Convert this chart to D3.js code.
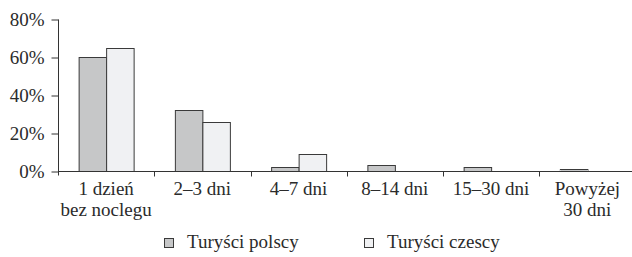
<!DOCTYPE html>
<html>
<head>
<meta charset="utf-8">
<script src="https://cdn.jsdelivr.net/npm/d3@7"></script>
<style>
  body { margin: 0; background: #fff; }
</style>
</head>
<body>
<svg id="chart" width="632" height="257"></svg>
<script>
// Data
var categories = [["1 dzień", "bez noclegu"], ["2–3 dni"], ["4–7 dni"], ["8–14 dni"], ["15–30 dni"], ["Powyżej", "30 dni"]];
var seriesNames = ["Turyści polscy", "Turyści czescy"];
var polscy = [60, 32, 2, 3, 2, 1];
var czescy = [65, 26, 9, 0, 0, 0];
var yTicks = [0, 20, 40, 60, 80];
var colors = ["#c6c7c8", "#f0f1f3"];

var FONT = "'Liberation Serif', 'Times New Roman'";
var textColor = "#2b2b2b";

var margin = { top: 19, left: 58 };
var plotBottom = 171;

var svg = d3.select("#chart");

var catIdx = categories.map((c, i) => i);

// x scales: one band per category, two bars inside
var x0 = d3.scaleBand()
    .domain(catIdx)
    .range([margin.left, margin.left + 6 * 96.25])
    .padding(0);

var x1 = d3.scaleBand()
    .domain([0, 1])
    .range([0, x0.bandwidth()])
    .paddingInner(0)
    .paddingOuter(0.75);

var y = d3.scaleLinear()
    .domain([0, 80])
    .range([plotBottom, margin.top]);

var rows = catIdx.map(i => [polscy[i], czescy[i]]);

// Bars
var groups = svg.append("g")
    .selectAll("g")
    .data(rows)
    .enter()
    .append("g")
    .attr("transform", (d, i) => `translate(${x0(i)},0)`);

groups.selectAll("rect")
    .data(d => d.map((v, s) => ({ v: v, s: s })).filter(o => o.v > 0))
    .enter()
    .append("rect")
    .attr("x", d => x1(d.s) + 0.5)
    .attr("y", d => Math.round(y(d.v)) + 0.5)
    .attr("width", x1.bandwidth())
    .attr("height", d => Math.round(plotBottom) - Math.round(y(d.v)))
    .attr("fill", d => colors[d.s])
    .attr("stroke", "#3a3a3a")
    .attr("stroke-width", 1);

// Y axis
var leftAxis = d3.axisLeft(y)
    .tickValues(yTicks)
    .tickFormat(d => d + "%")
    .tickSize(7)
    .tickPadding(7);

var yAxis = svg.append("g")
    .attr("transform", `translate(${margin.left + 0.5},0.5)`)
    .call(leftAxis);

yAxis.select(".domain").remove();
yAxis.append("line")
    .attr("x1", 0).attr("x2", 0)
    .attr("y1", y(80)).attr("y2", plotBottom + 4)
    .attr("stroke", "#333");
yAxis.selectAll(".tick line").attr("stroke", "#333");
yAxis.selectAll(".tick text").attr("fill", textColor);

// X axis: line + ticks on category boundaries
var xAxis = svg.append("g").attr("transform", "translate(0.5,0.5)");
xAxis.append("line")
    .attr("x1", margin.left).attr("x2", 632)
    .attr("y1", plotBottom).attr("y2", plotBottom)
    .attr("stroke", "#333");

xAxis.selectAll(".bt")
    .data(catIdx.slice(1))
    .enter()
    .append("line")
    .attr("x1", d => Math.round(x0(d)))
    .attr("x2", d => Math.round(x0(d)))
    .attr("y1", plotBottom)
    .attr("y2", plotBottom + 5)
    .attr("stroke", "#333");

// Category labels
var labels = svg.append("g")
    .selectAll("text")
    .data(categories)
    .enter()
    .append("text")
    .attr("x", (d, i) => x0(i) + x0.bandwidth() / 2)
    .attr("y", 195)
    .attr("text-anchor", "middle")
    .attr("fill", textColor);

labels.selectAll("tspan")
    .data(d => d)
    .enter()
    .append("tspan")
    .attr("x", function () { return d3.select(this.parentNode).attr("x"); })
    .attr("dy", (d, i) => i === 0 ? 0 : 21)
    .text(d => d);

// Legend
var legendX = [164, 364];
var legend = svg.append("g")
    .selectAll("g")
    .data(seriesNames)
    .enter()
    .append("g")
    .attr("transform", (d, i) => `translate(${legendX[i]},0)`);

legend.append("rect")
    .attr("x", 0.5)
    .attr("y", 238.5)
    .attr("width", 9)
    .attr("height", 9)
    .attr("fill", (d, i) => colors[i])
    .attr("stroke", "#3a3a3a");

legend.append("text")
    .attr("x", 23)
    .attr("y", 248)
    .attr("fill", textColor)
    .text(d => d);

// same serif font for every text
svg.selectAll("g").attr("font-family", null).attr("font-size", null);
svg.selectAll("text")
    .attr("font-family", "Liberation Serif")
    .style("font-family", FONT)
    .style("font-size", "19px");
</script>
</body>
</html>
